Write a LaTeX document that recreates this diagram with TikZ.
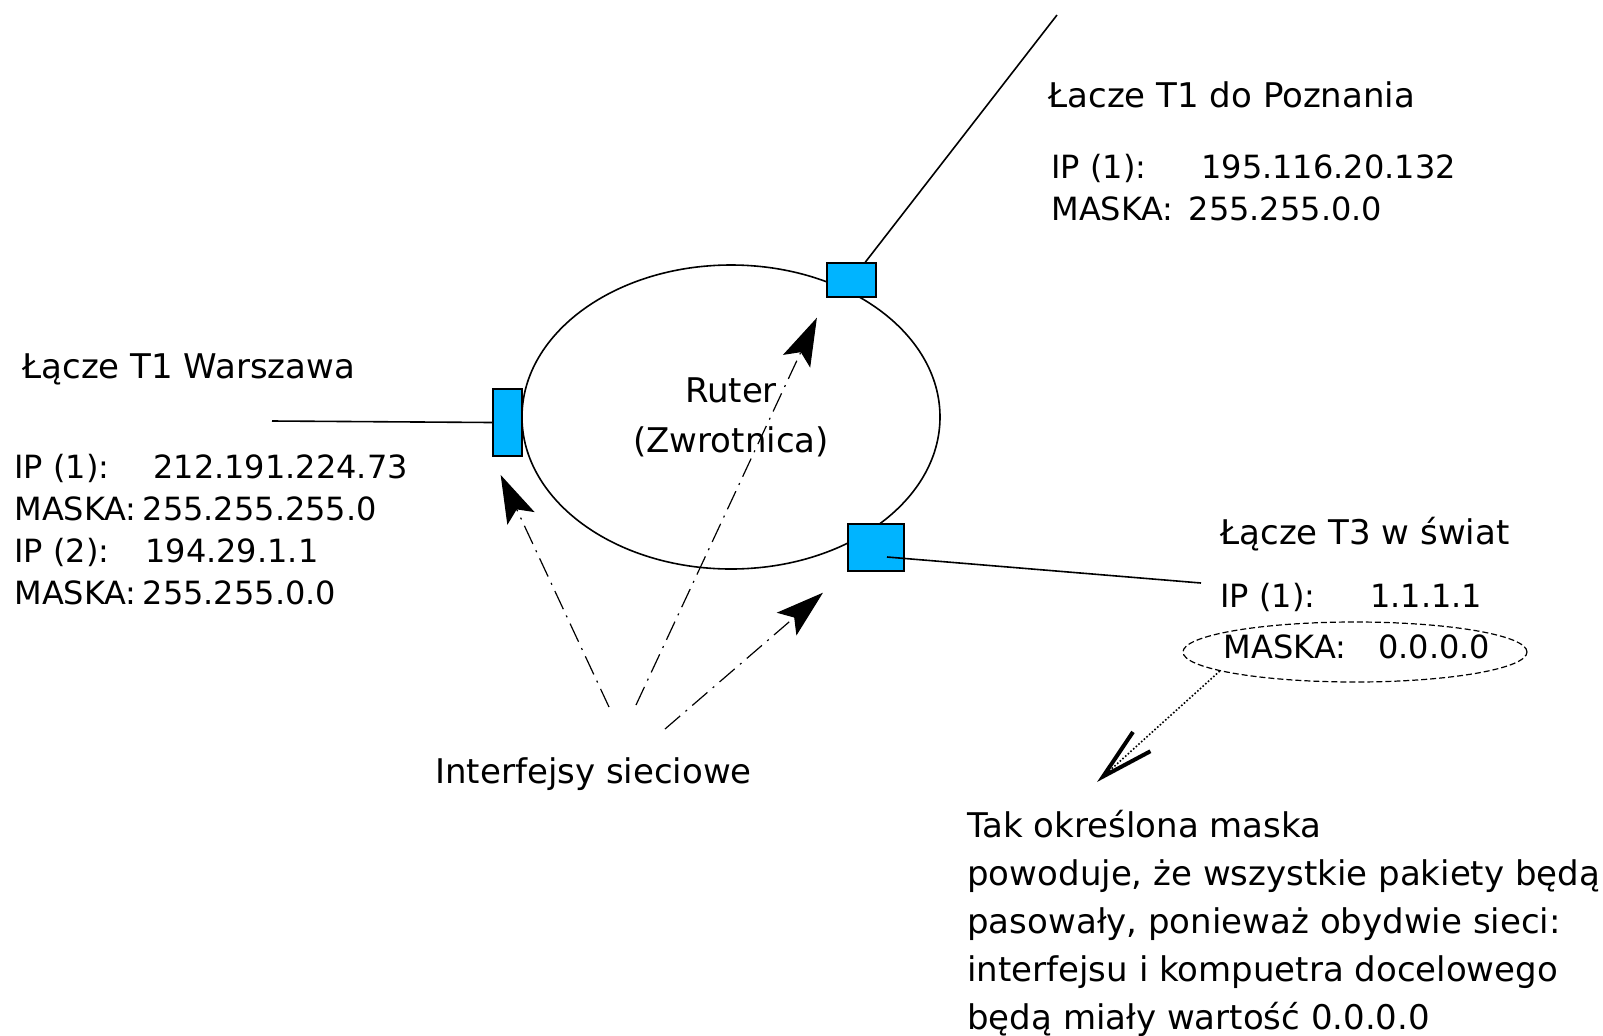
\documentclass[tikz,border=0pt]{standalone}
\usepackage{fontspec}
\setmainfont{DejaVu Sans}
\usetikzlibrary{shapes.geometric,arrows.meta}
\definecolor{ifaceblue}{RGB}{0,180,255}
\tikzset{
	iface/.style={draw,fill=ifaceblue,line width=0.8pt,inner sep=0pt},
	txt/.style={inner sep=0pt,font=\fontsize{17}{21}\selectfont},
	addr/.style={inner sep=0pt,align=left,font=\fontsize{16}{21}\selectfont},
	pointer/.style={line width=0.6pt,dash pattern=on 10pt off 3.5pt on 1pt off 3.5pt,
		-{Stealth[length=24pt,width=15pt,inset=5pt]}},
	wire/.style={line width=0.8pt},
	maskring/.style={draw,ellipse,inner sep=0pt,line width=0.6pt,dash pattern=on 3pt off 1.5pt}
}

\begin{document}
\begin{tikzpicture}[x=0.5pt,y=-0.5pt]
	\useasboundingbox (0,0) rectangle (1603,1035);
	\node[draw,ellipse,line width=0.8pt,minimum width=209pt,minimum height=152pt,
		align=center,font=\fontsize{17}{25}\selectfont] (ruter) at (731,417) {Ruter\\(Zwrotnica)};
	\node[iface,minimum width=14.5pt,minimum height=33.5pt] (wawif) at (507.5,422.5) {};
	\node[iface,minimum width=24.5pt,minimum height=17pt] (pozif) at (851.5,280) {};
	\node[iface,minimum width=28pt,minimum height=23.5pt] (swiatif) at (876,547.5) {};
	\coordinate (wawend) at (272,421);
	\coordinate (pozend) at (1057,15);
	\coordinate (swiatend) at (1201,583);
	\draw[wire] (wawend) -- (wawif.west);
	\draw[wire] (pozend) -- (pozif);
	\draw[wire] ([shift={(11,9.5)}]swiatif.center) -- (swiatend);

	\node[txt,anchor=west] (waw) at (22,369) {Łącze T1 Warszawa};
	\node[addr,anchor=north west] (wawip) at (14,454) {IP (1):\hspace{22pt}212.191.224.73\\MASKA:\hspace{3pt}255.255.255.0\\IP (2):\hspace{18pt}194.29.1.1\\MASKA:\hspace{3pt}255.255.0.0};
	\node[txt,anchor=west] (poz) at (1048,95) {Łacze T1 do Poznania};
	\node[addr,anchor=north west] (pozip) at (1051,154) {IP (1):\hspace{27.5pt}195.116.20.132\\MASKA:\hspace{7.5pt}255.255.0.0};
	\node[txt,anchor=west] (swiat) at (1220,534) {Łącze T3 w świat};
	\node[addr,anchor=west] (swiatip) at (1220,597) {IP (1):\hspace{27.5pt}1.1.1.1};
	\node[maskring,minimum width=172pt,minimum height=30pt] (maska) at (1355,652) {};
	\node[addr] (maskatxt) at (1357,647) {MASKA:\hspace{16pt}0.0.0.0};
	\node[txt,anchor=west] (ifaces) at (435,774) {Interfejsy sieciowe};
	\node[txt,anchor=north west,align=left,font=\fontsize{17}{24}\selectfont] (note) at (967,810) {Tak określona maska\\powoduje, że wszystkie pakiety będą\\pasowały, ponieważ obydwie sieci:\\interfejsu i kompuetra docelowego\\będą miały wartość 0.0.0.0};

	\coordinate (tail1) at (609,707);
	\coordinate (tail2) at (636,705);
	\coordinate (tail3) at (665,729);
	\coordinate (notetip) at (1097,782);
	\draw[pointer,shorten >=10pt] (tail1) -- (wawif.south west);
	\draw[pointer,shorten >=11pt] (tail2) -- (pozif.south west);
	\draw[pointer,shorten >=16pt] (tail3) -- (swiatif.south west);
	\draw[densely dotted,line width=0.8pt,-{Straight Barb[length=26pt,width=13pt,line width=2pt]}] (maska.188) -- (notetip);
\end{tikzpicture}
\end{document}
